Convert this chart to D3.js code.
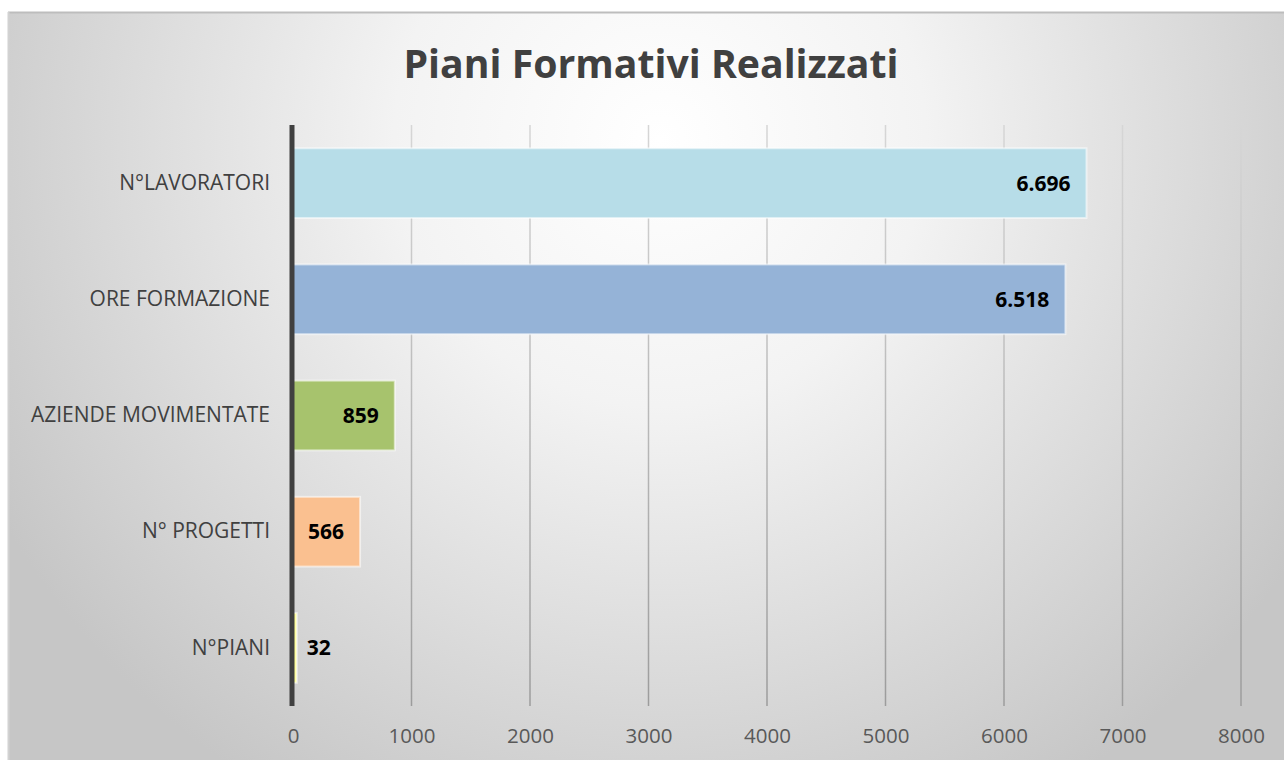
<!DOCTYPE html>
<html>
<head>
<meta charset="utf-8">
<script src="https://cdn.jsdelivr.net/npm/d3@7"></script>
<style>
  html, body { margin: 0; padding: 0; background: #fff; }
  svg { display: block; }
</style>
</head>
<body>
<svg id="chart" width="1284" height="760"></svg>
<script>
// chart data
var categories = ["N°LAVORATORI", "ORE FORMAZIONE", "AZIENDE MOVIMENTATE", "N° PROGETTI", "N°PIANI"];
var values = [6696, 6518, 859, 566, 32];
var barColors = ["#b7dde8", "#95b3d7", "#a7c36d", "#fac090", "#ffff99"];
var xTicks = [0, 1000, 2000, 3000, 4000, 5000, 6000, 7000, 8000];
var title = "Piani Formativi Realizzati";

var svg = d3.select("#chart");
var font = "'Open Sans', 'Noto Sans', sans-serif";

var defs = svg.append("defs");
var bg = defs.append("radialGradient").attr("id", "bg")
    .attr("gradientUnits", "userSpaceOnUse")
    .attr("cx", 660).attr("cy", 140).attr("r", 760);
bg.append("stop").attr("offset", "0").attr("stop-color", "#ffffff");
bg.append("stop").attr("offset", "0.35").attr("stop-color", "#f3f3f3");
bg.append("stop").attr("offset", "1").attr("stop-color", "#c6c6c6");

var plot = { left: 293, right: 1241, top: 125, bottom: 706 };

var gridGrad = defs.append("linearGradient").attr("id", "grid")
    .attr("gradientUnits", "userSpaceOnUse")
    .attr("x1", 0).attr("x2", 0).attr("y1", plot.top).attr("y2", plot.bottom);
gridGrad.append("stop").attr("offset", "0").attr("stop-color", "#d6d6d6");
gridGrad.append("stop").attr("offset", "1").attr("stop-color", "#9c9c9c");

// background + frame
svg.append("rect").attr("x", 8).attr("y", 12).attr("width", 1300).attr("height", 800)
    .attr("fill", "url(#bg)");
svg.append("line").attr("x1", 8).attr("x2", 1284).attr("y1", 12.5).attr("y2", 12.5)
    .attr("stroke", "#bdbdbd").attr("stroke-width", 2);
svg.append("line").attr("x1", 8.5).attr("x2", 8.5).attr("y1", 12).attr("y2", 760)
    .attr("stroke", "#d2d2d2").attr("stroke-width", 2);

var x = d3.scaleLinear().domain([0, 8000]).range([plot.left, plot.right]);
var y = d3.scaleBand().domain(categories).range([plot.top, plot.bottom])
    .paddingInner(0.4).paddingOuter(0.2);

// grid lines
svg.append("g").selectAll("line").data(xTicks.slice(1)).enter().append("line")
    .attr("x1", function (d) { return x(d); })
    .attr("x2", function (d) { return x(d); })
    .attr("y1", plot.top).attr("y2", plot.bottom)
    .attr("stroke", "url(#grid)").attr("stroke-width", 1.5);

// x axis labels
var xAxis = d3.axisBottom(x).tickValues(xTicks).tickFormat(d3.format("d"))
    .tickSize(0).tickPadding(0);
var gx = svg.append("g").attr("transform", "translate(0," + (plot.bottom + 22) + ")").call(xAxis);
gx.select(".domain").remove();
gx.selectAll("text").attr("font-family", font).attr("font-size", 20.5)
    .attr("fill", "#595959");

// bars
svg.append("g").selectAll("rect").data(values).enter().append("rect")
    .attr("x", x(0))
    .attr("y", function (d, i) { return y(categories[i]); })
    .attr("width", function (d) { return x(d) - x(0); })
    .attr("height", y.bandwidth())
    .attr("fill", function (d, i) { return barColors[i]; })
    .attr("stroke", "rgba(255,255,255,0.55)").attr("stroke-width", 2);

// category labels
var yAxis = d3.axisLeft(y).tickSize(0).tickPadding(23);
var gy = svg.append("g").attr("transform", "translate(" + plot.left + ",0)").call(yAxis);
gy.select(".domain").remove();
gy.selectAll("text").attr("font-family", font).attr("font-size", 21)
    .attr("fill", "#404040");

// axis line
svg.append("line").attr("x1", x(0) - 1).attr("x2", x(0) - 1)
    .attr("y1", plot.top).attr("y2", plot.bottom)
    .attr("stroke", "#404040").attr("stroke-width", 5);

// value labels
var fmt = d3.formatLocale({ decimal: ",", thousands: ".", grouping: [3], currency: ["", "€"] }).format(",d");
var labels = svg.append("g").selectAll("text").data(values).enter().append("text")
    .attr("font-family", font).attr("font-size", 21).attr("font-weight", "bold")
    .attr("fill", "#000")
    .attr("y", function (d, i) { return y(categories[i]) + y.bandwidth() / 2; })
    .attr("dy", "0.36em")
    .text(function (d) { return fmt(d); });
labels.each(function (d) {
    var t = d3.select(this);
    var w = this.getComputedTextLength();
    var barW = x(d) - x(0);
    if (barW > w + 24) {
        t.attr("x", x(d) - 16).attr("text-anchor", "end");
    } else {
        t.attr("x", x(d) + 10).attr("text-anchor", "start");
    }
});

// title
svg.append("text").attr("x", 651).attr("y", 78)
    .attr("text-anchor", "middle")
    .attr("font-family", font).attr("font-size", 40).attr("font-weight", "bold")
    .attr("fill", "#404040")
    .attr("textLength", 495).attr("lengthAdjust", "spacingAndGlyphs")
    .text(title);
</script>
</body>
</html>
